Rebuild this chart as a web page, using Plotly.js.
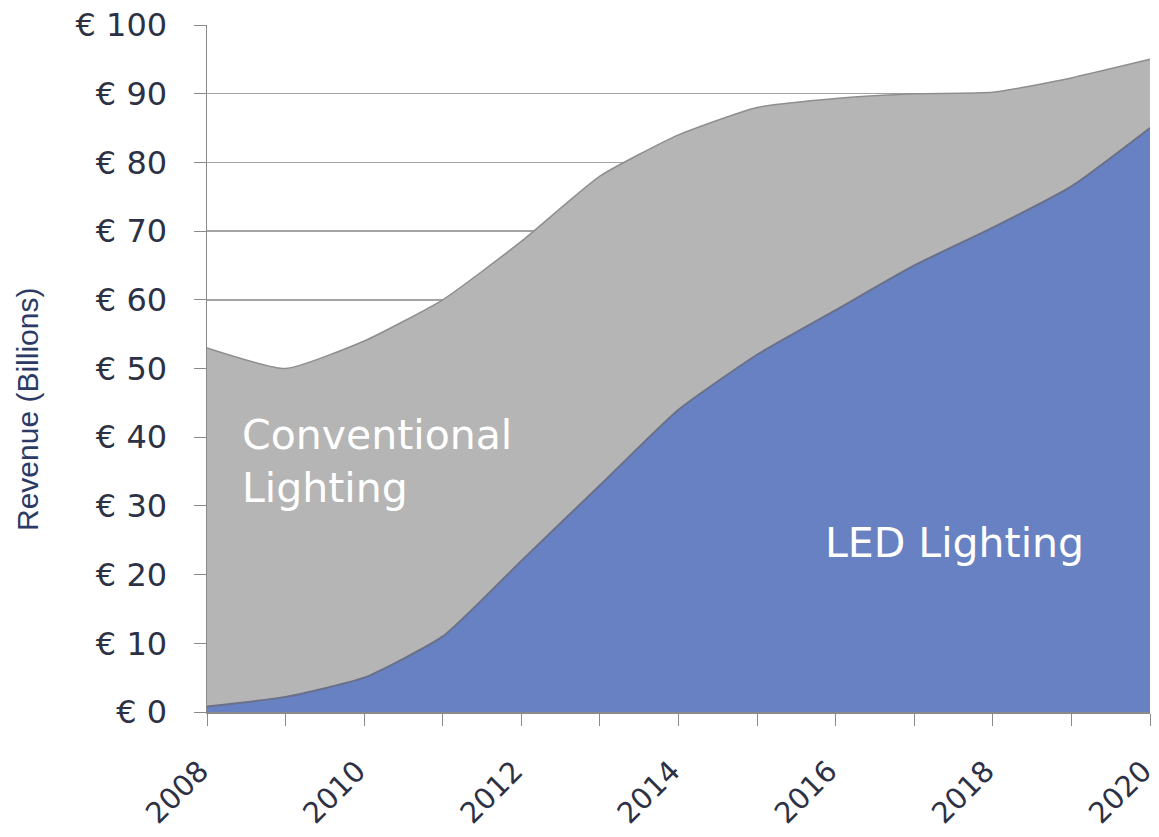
<!DOCTYPE html>
<html>
<head>
<meta charset="utf-8">
<script src="https://cdn.plot.ly/plotly-3.0.1.min.js"></script>
<style>html,body{margin:0;padding:0;background:#fff;}#chart{width:1159px;height:837px;}</style>
</head>
<body>
<div id="chart"></div>
<script>
const years = [2008, 2009, 2010, 2011, 2012, 2013, 2014, 2015, 2016, 2017, 2018, 2019, 2020];
const ledLighting = [0.8, 2.2, 5, 11, 22, 33, 44, 52, 58.5, 65, 70.5, 76.5, 85];
const conventionalLighting = [52.2, 47.8, 49, 49, 46.5, 45, 40, 36, 30.8, 25, 19.7, 15.8, 10];
const yTickVals = [0, 10, 20, 30, 40, 50, 60, 70, 80, 90, 100];
const yTickText = ["€ 0", "€ 10", "€ 20", "€ 30", "€ 40", "€ 50", "€ 60", "€ 70", "€ 80", "€ 90", "€ 100"];
const xTickText = ["2008", "", "2010", "", "2012", "", "2014", "", "2016", "", "2018", "", "2020"];

const traces = [
  {
    x: years, y: ledLighting, name: "LED Lighting", type: "scatter", mode: "lines",
    stackgroup: "one", line: {color: "#6a7088", width: 2, shape: "spline", smoothing: 0.5},
    fillcolor: "#6881c3", hoverinfo: "x+y"
  },
  {
    x: years, y: conventionalLighting, name: "Conventional Lighting", type: "scatter", mode: "lines",
    stackgroup: "one", line: {color: "#8e8e8e", width: 1.5, shape: "spline", smoothing: 0.5},
    fillcolor: "#b5b5b5", hoverinfo: "x+y"
  }
];

const tickFont = {family: "DejaVu Sans, Verdana, sans-serif", size: 32, color: "#2d3145"};
const xTickFont = {family: "DejaVu Sans, Verdana, sans-serif", size: 29, color: "#2d3145"};

const layout = {
  width: 1159, height: 837,
  margin: {l: 207, r: 9, t: 25, b: 125, pad: 0},
  paper_bgcolor: "#ffffff", plot_bgcolor: "#ffffff",
  showlegend: false,
  xaxis: {
    range: [2008, 2020], tickmode: "array", tickvals: years, ticktext: xTickText,
    tickangle: -45, tickfont: xTickFont, ticks: "outside", ticklen: 12, tickcolor: "#8a8a8a",
    showline: true, linecolor: "#8a8a8a", linewidth: 1.5, showgrid: false, zeroline: false,
    ticklabelstandoff: 17, ticklabelshift: -7, ticklabeloverflow: "allow", automargin: false, fixedrange: true
  },
  yaxis: {
    range: [0, 100], tickmode: "array", tickvals: yTickVals, ticktext: yTickText,
    tickfont: tickFont, ticks: "outside", ticklen: 12, tickcolor: "#8a8a8a",
    showline: true, linecolor: "#8a8a8a", linewidth: 1.5,
    showgrid: true, gridcolor: "#a3a3a3", gridwidth: 1.5, zeroline: false,
    ticklabelstandoff: 20, ticklabeloverflow: "allow", automargin: false, fixedrange: true
  },
  annotations: [
    {x: 27, y: 410, xref: "paper", yref: "paper", text: "Revenue (Billions)", showarrow: false,
     textangle: -90, xanchor: "center", yanchor: "middle",
     font: {family: "Liberation Sans, Arial, sans-serif", size: 30, color: "#2c3a66"}},
    {x: 2008.42, y: 36.5, xref: "x", yref: "y", text: "Conventional<br>Lighting", showarrow: false,
     xanchor: "left", yanchor: "middle", align: "left",
     font: {family: "DejaVu Sans, Verdana, sans-serif", size: 41, color: "#ffffff"}},
    {x: 2015.84, y: 24.6, xref: "x", yref: "y", text: "LED Lighting", showarrow: false,
     xanchor: "left", yanchor: "middle", align: "left",
     font: {family: "DejaVu Sans, Verdana, sans-serif", size: 41, color: "#ffffff"}}
  ]
};

// convert the axis-title annotation position from pixels to paper coordinates
const plotW = layout.width - layout.margin.l - layout.margin.r;
const plotH = layout.height - layout.margin.t - layout.margin.b;
const t = layout.annotations[0];
t.x = (t.x - layout.margin.l) / plotW;
t.y = (layout.height - layout.margin.b - t.y) / plotH;

Plotly.newPlot("chart", traces, layout, {displayModeBar: false, staticPlot: true});
</script>
</body>
</html>
